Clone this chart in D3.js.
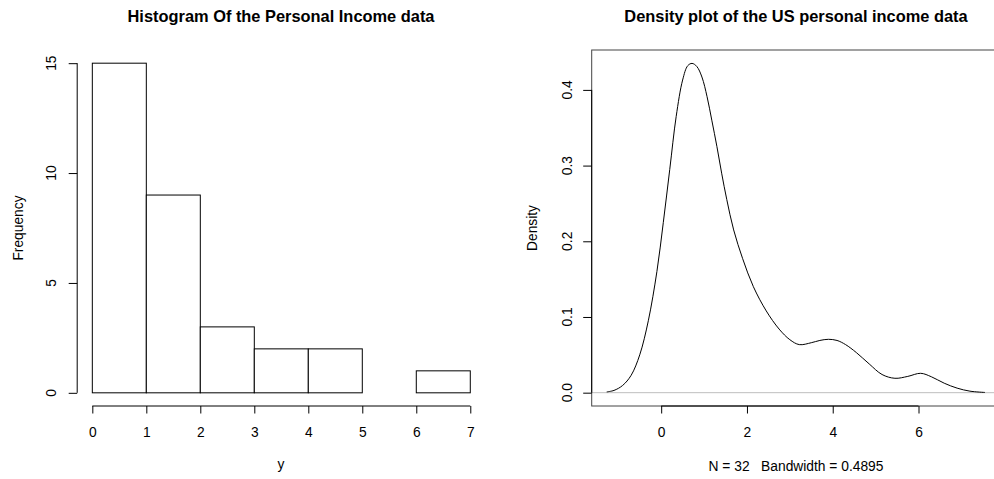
<!DOCTYPE html>
<html>
<head>
<meta charset="utf-8">
<script src="https://cdn.jsdelivr.net/npm/d3@7"></script>
<style>
  body { margin: 0; background: #fff; }
  svg { display: block; font-family: "Liberation Sans", Arial, sans-serif; }
  text { fill: #000; }
</style>
</head>
<body>
<div id="chart"></div>
<script>
// histogram bins (income, 1 unit wide) and counts
const binEdges = [0, 1, 2, 3, 4, 5, 6, 7];
const binCounts = [15, 9, 3, 2, 2, 0, 1];
const histYTicks = [0, 5, 10, 15];

// density curve
const densX = [-1.27, -1.1, -0.9, -0.7, -0.5, -0.3, -0.1, 0.05, 0.2, 0.35, 0.5, 0.62, 0.72,
  0.83, 0.95, 1.07, 1.18, 1.30, 1.41, 1.53, 1.69, 1.9, 2.15, 2.45, 2.75, 3.0, 3.22, 3.5, 3.7, 3.9,
  4.1, 4.3, 4.55, 4.85, 5.15, 5.45, 5.75, 6.05, 6.3, 6.6, 6.9, 7.2, 7.55];
const densY = [0.001, 0.003, 0.0095, 0.023, 0.05, 0.095, 0.16, 0.225, 0.295, 0.365, 0.413, 0.432, 0.435,
  0.431, 0.417, 0.391, 0.360, 0.325, 0.290, 0.255, 0.215, 0.177, 0.140, 0.108, 0.084, 0.07, 0.0635, 0.066, 0.069, 0.0705,
  0.069, 0.0635, 0.053, 0.038, 0.024, 0.019, 0.0215, 0.0256, 0.021, 0.0125, 0.006, 0.002, 0.0003];
const densXTicks = [0, 2, 4, 6];
const densYTicks = [0, 0.1, 0.2, 0.3, 0.4];

const width = 994, height = 479;
const labelSize = "13.8px", titleSize = "16.4px";

const svg = d3.select("#chart").append("svg")
  .attr("width", width)
  .attr("height", height);

// ---- left panel: histogram ----
const x1 = d3.scaleLinear().domain([-0.28, 7.28]).range([77.2, 485.4]);
const y1 = d3.scaleLinear().domain([-0.6, 15.6]).range([406, 50]);

svg.append("text")
  .attr("x", 281).attr("y", 21.5)
  .attr("text-anchor", "middle")
  .style("font-size", titleSize).style("font-weight", "bold")
  .text("Histogram Of the Personal Income data");

svg.selectAll(".bar")
  .data(binCounts)
  .enter().append("rect")
  .attr("class", "bar")
  .attr("x", (d, i) => x1(binEdges[i]))
  .attr("width", (d, i) => x1(binEdges[i + 1]) - x1(binEdges[i]))
  .attr("y", d => y1(d))
  .attr("height", d => y1(0) - y1(d))
  .attr("fill", "#fff")
  .attr("stroke", "#000")
  .attr("stroke-width", 1);

function bottomAxis(scale, ticks, yPos, fmt) {
  const g = svg.append("g")
    .attr("transform", "translate(0," + yPos + ")")
    .call(d3.axisBottom(scale).tickValues(ticks).tickSize(7.5).tickPadding(13.5).tickFormat(fmt));
  g.select(".domain").remove();
  g.append("line")
    .attr("x1", scale(ticks[0])).attr("x2", scale(ticks[ticks.length - 1]))
    .attr("stroke", "#000");
  g.selectAll(".tick line").attr("stroke", "#000");
  g.selectAll("text").style("font-size", labelSize).style("font-family", "Liberation Sans, Arial, sans-serif").attr("fill", "#000");
  return g;
}

function leftAxis(scale, ticks, xPos, labelX, fmt) {
  const g = svg.append("g")
    .attr("transform", "translate(" + xPos + ",0)")
    .call(d3.axisLeft(scale).tickValues(ticks).tickSize(8.5).tickFormat(""));
  g.select(".domain").remove();
  g.append("line")
    .attr("y1", scale(ticks[0])).attr("y2", scale(ticks[ticks.length - 1]))
    .attr("stroke", "#000");
  g.selectAll(".tick line").attr("stroke", "#000");
  svg.selectAll(null)
    .data(ticks)
    .enter().append("text")
    .attr("transform", d => "translate(" + labelX + "," + scale(d) + ") rotate(-90)")
    .attr("text-anchor", "middle")
    .style("font-size", labelSize)
    .text(fmt);
}

bottomAxis(x1, binEdges, 406, d3.format("d"));
leftAxis(y1, histYTicks, 77.2, 56, d3.format("d"));

svg.append("text")
  .attr("x", 281).attr("y", 469)
  .attr("text-anchor", "middle")
  .style("font-size", labelSize)
  .text("y");

svg.append("text")
  .attr("transform", "translate(22.5,228) rotate(-90)")
  .attr("text-anchor", "middle")
  .style("font-size", labelSize)
  .text("Frequency");

// ---- right panel: density ----
const x2 = d3.scaleLinear().domain([-1.62, 7.9]).range([591.7, 1000]);
const y2 = d3.scaleLinear().domain([-0.0176, 0.4527]).range([406, 50]);

svg.append("text")
  .attr("x", 796).attr("y", 21.5)
  .attr("text-anchor", "middle")
  .style("font-size", titleSize).style("font-weight", "bold")
  .text("Density plot of the US personal income data");

svg.append("line")
  .attr("x1", x2.range()[0]).attr("x2", x2.range()[1])
  .attr("y1", y2(0)).attr("y2", y2(0))
  .attr("stroke", "#bebebe");

const densPts = densX.map((d, i) => [d, densY[i]]);
svg.append("path")
  .datum(densPts)
  .attr("fill", "none")
  .attr("stroke", "#000")
  .attr("stroke-width", 1)
  .attr("d", d3.line().x(d => x2(d[0])).y(d => y2(d[1])).curve(d3.curveCatmullRom.alpha(0.5)));

svg.append("rect")
  .attr("x", x2.range()[0]).attr("y", y2.range()[1])
  .attr("width", x2.range()[1] - x2.range()[0])
  .attr("height", y2.range()[0] - y2.range()[1])
  .attr("fill", "none")
  .attr("stroke", "#444");

bottomAxis(x2, densXTicks, 406, d3.format("d"));
leftAxis(y2, densYTicks, 591.7, 571.5, d3.format(".1f"));

svg.append("text")
  .attr("x", 796).attr("y", 470.5)
  .attr("text-anchor", "middle")
  .style("font-size", labelSize)
  .style("white-space", "pre")
  .text("N = 32   Bandwidth = 0.4895");

svg.append("text")
  .attr("transform", "translate(537,228) rotate(-90)")
  .attr("text-anchor", "middle")
  .style("font-size", labelSize)
  .text("Density");
</script>
</body>
</html>
